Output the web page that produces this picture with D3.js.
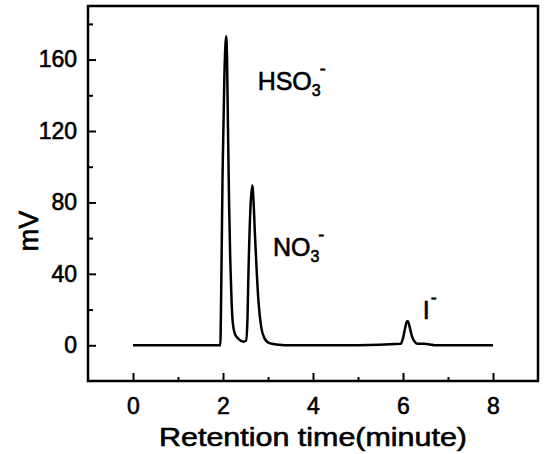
<!DOCTYPE html>
<html>
<head>
<meta charset="utf-8">
<script src="https://cdn.jsdelivr.net/npm/d3@7"></script>
<style>
  body { margin: 0; background: #fff; }
  svg { display: block; font-family: "Liberation Sans", Arial, sans-serif; }
  text { fill: #000; stroke: #000; stroke-width: 0.6; }
  .tick text { font-size: 23px; }
  .tick line { stroke: #000; stroke-width: 2; }
</style>
</head>
<body>
<svg width="549" height="454"></svg>
<script>
// chromatogram
var time = [0, 1.5, 1.94, 1.96, 1.99, 2.03, 2.07, 2.09, 2.11, 2.135, 2.16, 2.19, 2.22, 2.27, 2.35, 2.45, 2.51,
            2.54, 2.57, 2.61, 2.65, 2.68, 2.71, 2.74, 2.79, 2.85, 2.92, 3.03, 3.25, 3.5,
            5.0, 5.95, 6.0, 6.05, 6.09, 6.11, 6.15, 6.2, 6.26, 6.33, 6.45, 6.6, 6.7, 8];
var mV   = [0, 0, 0, 30, 95, 150, 173, 160, 123, 80, 49, 25, 12, 6, 3.5, 2, 2.5,
            12, 45, 77, 89.5, 80, 62, 46, 24, 10, 4, 1.2, 0.3, 0,
            0, 0.8, 4, 10, 13.5, 13.5, 10, 5, 2, 0.8, 0.8, 0.5, 0, 0];

var xMajor = [0, 2, 4, 6, 8],
    xMinor = [1, 3, 5, 7],
    yMajor = [0, 40, 80, 120, 160],
    yMinor = [20, 60, 100, 140, 180];

var peakLabels = [
  {name: "HSO", sub: "3", sup: "-", t: 2.77, v: 143},
  {name: "NO", sub: "3", sup: "-", t: 3.11, v: 50},
  {name: "I", sub: "", sup: "-", t: 6.44, v: 15}
];

var svg = d3.select("svg"),
    margin = {top: 6, right: 11, bottom: 73, left: 88},
    width = +svg.attr("width") - margin.left - margin.right,
    height = +svg.attr("height") - margin.top - margin.bottom;

var x = d3.scaleLinear().domain([-1, 9]).range([0, width]),
    y = d3.scaleLinear().domain([-20, 190]).range([height, 0]);

var g = svg.append("g")
    .attr("transform", "translate(" + margin.left + "," + margin.top + ")");

// ticks (pointing inward)
g.append("g")
    .attr("class", "axis axis--x")
    .attr("transform", "translate(0," + height + ")")
    .call(d3.axisBottom(x).tickValues(xMajor).tickSize(-8).tickPadding(17).tickFormat(d3.format("d")));

g.append("g")
    .attr("transform", "translate(0," + height + ")")
    .call(d3.axisBottom(x).tickValues(xMinor).tickSize(-4).tickFormat(""));

g.append("g")
    .attr("class", "axis axis--y")
    .call(d3.axisLeft(y).tickValues(yMajor).tickSize(-8).tickPadding(11).tickFormat(d3.format("d")));

g.append("g")
    .call(d3.axisLeft(y).tickValues(yMinor).tickSize(-5).tickFormat(""));

g.selectAll(".domain").remove();

// frame
g.append("rect")
    .attr("width", width)
    .attr("height", height)
    .attr("fill", "none")
    .attr("stroke", "#000")
    .attr("stroke-width", 2.5);

var line = d3.line()
    .x(function(d, i) { return x(time[i]); })
    .y(function(d, i) { return y(mV[i]); })
    .curve(d3.curveMonotoneX);

g.append("path")
    .datum(mV)
    .attr("fill", "none")
    .attr("stroke", "#000")
    .attr("stroke-width", 2.5)
    .attr("stroke-linejoin", "round")
    .attr("d", line);

// peak labels
var lab = g.selectAll(".peak")
    .data(peakLabels)
    .enter().append("text")
      .attr("class", "peak")
      .attr("x", function(d) { return x(d.t); })
      .attr("y", function(d) { return y(d.v); })
      .attr("font-size", 25);
lab.append("tspan").text(function(d) { return d.name; });
lab.append("tspan")
    .attr("font-size", 16)
    .attr("dy", 6)
    .text(function(d) { return d.sub; });
lab.append("tspan")
    .attr("font-size", 18)
    .attr("dx", function(d) { return d.sub ? -1 : 1; })
    .attr("dy", function(d) { return d.sub ? -21 : -15; })
    .text(function(d) { return d.sup; });

// axis titles
svg.append("text")
    .attr("x", margin.left + width / 2)
    .attr("y", 446)
    .attr("text-anchor", "middle")
    .attr("font-size", 26)
    .attr("textLength", 308)
    .attr("lengthAdjust", "spacingAndGlyphs")
    .text("Retention time(minute)");

svg.append("text")
    .attr("transform", "translate(38," + (margin.top + y(64)) + ") rotate(-90)")
    .attr("text-anchor", "middle")
    .attr("font-size", 27)
    .text("mV");
</script>
</body>
</html>
